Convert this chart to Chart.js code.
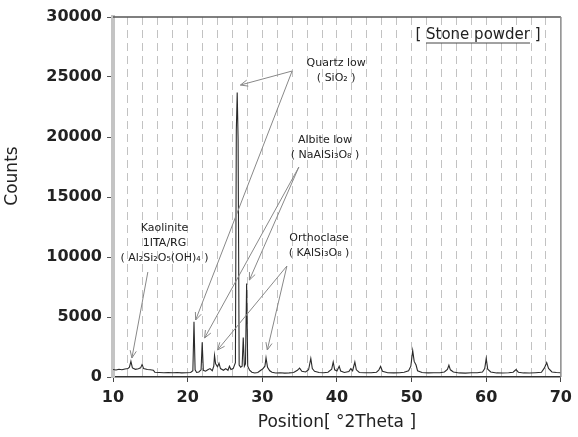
<!DOCTYPE html>
<html>
<head>
<meta charset="utf-8">
<script src="https://cdn.jsdelivr.net/npm/chart.js@4/dist/chart.umd.min.js"></script>
<style>
  html, body { margin: 0; padding: 0; background: #fff; }
  canvas { display: block; }
</style>
</head>
<body>
<canvas id="xrd" width="578" height="437"></canvas>
<script>
// diffraction pattern, position (°2θ) against counts
const twoTheta = [
  10.0, 10.4, 10.8, 11.2, 11.6, 12.0, 12.2, 12.4, 12.6, 13.0, 13.4, 13.7, 13.9, 14.1, 14.6, 15.0, 15.4, 15.6,
  16.2, 16.8, 17.4, 18.0, 18.6, 19.2, 19.8, 20.4, 20.7, 20.85, 21.0, 21.2, 21.5, 21.8, 21.95, 22.1, 22.4, 22.7,
  23.0, 23.3, 23.5, 23.6, 23.75, 24.0, 24.2, 24.4, 24.8, 25.1, 25.4, 25.6, 25.8, 26.1, 26.4, 26.52, 26.64, 26.76,
  26.9, 27.1, 27.3, 27.45, 27.6, 27.75, 27.9, 28.05, 28.3, 28.6, 29.0, 29.4, 29.8, 30.1, 30.35, 30.5, 30.7, 31.0,
  31.3, 31.8, 32.4, 33.0, 33.6, 34.2, 34.7, 35.0, 35.3, 35.8, 36.2, 36.5, 36.7, 37.0, 37.6, 38.2, 38.8, 39.3,
  39.5, 39.7, 40.0, 40.3, 40.5, 41.0, 41.6, 41.85, 42.1, 42.4, 42.6, 43.0, 43.8, 44.6, 45.3, 45.6, 45.85, 46.1,
  46.8, 47.6, 48.4, 49.0, 49.6, 49.9, 50.15, 50.35, 50.6, 50.8, 51.4, 52.2, 53.0, 53.8, 54.4, 54.8, 55.0, 55.2,
  55.6, 56.4, 57.2, 58.0, 58.8, 59.5, 59.8, 60.0, 60.2, 60.6, 61.4, 62.2, 63.0, 63.6, 64.0, 64.3, 65.0, 65.8,
  66.6, 67.4, 67.8, 68.1, 68.35, 68.8, 69.4, 70.0
];
const counts = [
  620, 580, 640, 600, 660, 700, 820, 1300, 760, 640, 680, 760, 1050, 700, 620, 600, 560, 400,
  380, 360, 380, 350, 370, 340, 360, 380, 520, 4600, 600, 380, 420, 600, 2900, 560, 480, 600,
  700, 520, 900, 1800, 1100, 850, 1150, 700, 560, 700, 560, 900, 620, 700, 1200, 20500, 23700, 19800,
  1000, 820, 900, 3300, 900, 1100, 7800, 900, 560, 400, 330, 380, 560, 700, 900, 1600, 800, 520,
  400, 330, 350, 320, 340, 380, 560, 740, 480, 420, 600, 1550, 700, 480, 380, 350, 400, 650,
  1250, 600, 500, 900, 500, 380, 460, 700, 520, 1250, 600, 380, 350, 360, 400, 560, 880, 480,
  360, 340, 360, 400, 520, 900, 2200, 1300, 1000, 520, 380, 340, 360, 350, 420, 640, 980, 600,
  420, 340, 320, 350, 360, 420, 700, 1550, 650, 420, 340, 330, 350, 400, 620, 400, 340, 330,
  360, 400, 760, 1200, 720, 420, 380, 360
];
const yTicks = [0, 5000, 10000, 15000, 20000, 25000, 30000];
const xTicks = [10, 20, 30, 40, 50, 60, 70];

// phase labels: text, label anchor and arrow ends in data units
const phases = [
  { text: ['Quartz low', '( SiO₂ )'], label: [39.9, 26150], from: [34.0, 25500], to: [[27.07, 24330], [21.07, 4750]] },
  { text: ['Albite low', '( NaAlSi₃O₈ )'], label: [38.4, 19750], from: [34.9, 17500], to: [[22.27, 3250], [28.27, 8080]] },
  { text: ['Orthoclase', '( KAlSi₃O₈ )'], label: [37.6, 11580], from: [33.3, 9250], to: [[24.0, 2250], [30.67, 2250]] },
  { text: ['Kaolinite', '1ITA/RG', '( Al₂Si₂O₅(OH)₄ )'], label: [16.9, 12420], from: [14.67, 8750], to: [[12.53, 1580]] }
];
const sampleName = 'Stone powder';

const FONT = "'DejaVu Sans', sans-serif";

function arrow(ctx, x1, y1, x2, y2) {
  ctx.beginPath();
  ctx.moveTo(x1, y1);
  ctx.lineTo(x2, y2);
  const a = Math.atan2(y2 - y1, x2 - x1);
  const len = 8, spread = 0.4;
  ctx.moveTo(x2 - len * Math.cos(a - spread), y2 - len * Math.sin(a - spread));
  ctx.lineTo(x2, y2);
  ctx.lineTo(x2 - len * Math.cos(a + spread), y2 - len * Math.sin(a + spread));
  ctx.stroke();
}

const framePlugin = {
  id: 'frame',
  afterDraw(chart) {
    const { ctx, chartArea: area, scales: { x, y } } = chart;
    ctx.save();

    // top and right edges of the plot box
    ctx.lineWidth = 1.5;
    ctx.strokeStyle = '#555';
    ctx.beginPath();
    ctx.moveTo(area.left, area.top);
    ctx.lineTo(area.right, area.top);
    ctx.stroke();
    ctx.strokeStyle = '#8a8a8a';
    ctx.beginPath();
    ctx.moveTo(area.right, area.top);
    ctx.lineTo(area.right, area.bottom);
    ctx.stroke();

    // phase labels with arrows
    ctx.lineWidth = 1;
    ctx.strokeStyle = '#888';
    ctx.fillStyle = '#222';
    ctx.textAlign = 'center';
    ctx.textBaseline = 'middle';
    ctx.font = '11px ' + FONT;
    phases.forEach(p => {
      const lx = x.getPixelForValue(p.label[0]);
      const ly = y.getPixelForValue(p.label[1]);
      p.text.forEach((t, i) => ctx.fillText(t, lx, ly + i * 15));
      const fx = x.getPixelForValue(p.from[0]);
      const fy = y.getPixelForValue(p.from[1]);
      p.to.forEach(t => arrow(ctx, fx, fy, x.getPixelForValue(t[0]), y.getPixelForValue(t[1])));
    });

    // sample name, bracketed and underlined
    ctx.font = '15px ' + FONT;
    ctx.textAlign = 'left';
    const cx = x.getPixelForValue(58.9);
    const cy = y.getPixelForValue(28500);
    const wName = ctx.measureText(sampleName).width;
    const wOpen = ctx.measureText('[ ').width;
    const wClose = ctx.measureText(' ]').width;
    const sx = cx - (wOpen + wName + wClose) / 2;
    ctx.fillText('[ ', sx, cy);
    ctx.fillText(sampleName, sx + wOpen, cy);
    ctx.fillText(' ]', sx + wOpen + wName, cy);
    ctx.strokeStyle = '#444';
    ctx.beginPath();
    ctx.moveTo(sx + wOpen, cy + 8);
    ctx.lineTo(sx + wOpen + wName, cy + 8);
    ctx.stroke();

    // y axis title
    ctx.font = '17px ' + FONT;
    ctx.textAlign = 'center';
    ctx.translate(13, 176);
    ctx.rotate(-Math.PI / 2);
    ctx.fillText('Counts', 0, 0);
    ctx.restore();
  }
};

new Chart(document.getElementById('xrd'), {
  type: 'line',
  data: {
    datasets: [{
      data: twoTheta.map((t, i) => ({ x: t, y: counts[i] })),
      borderColor: '#2a2a2a',
      borderWidth: 1.1,
      pointRadius: 0,
      tension: 0,
      fill: false
    }]
  },
  options: {
    responsive: false,
    animation: false,
    devicePixelRatio: 1,
    layout: { padding: { top: 17, right: 14, left: 0, bottom: 0 } },
    plugins: { legend: { display: false }, tooltip: { enabled: false } },
    scales: {
      x: {
        type: 'linear',
        min: 10,
        max: 70,
        afterFit: s => { s.height = 60; },
        afterBuildTicks: s => {
          const t = [];
          for (let v = 10; v <= 70; v += 2) t.push({ value: v });
          s.ticks = t;
        },
        ticks: {
          autoSkip: false,
          maxRotation: 0,
          padding: 6,
          color: '#222',
          font: { family: FONT, size: 16, weight: 'bold' },
          callback: v => xTicks.includes(v) ? String(v) : ''
        },
        grid: {
          color: c => (c.tick && (c.tick.value === 10 || c.tick.value === 70)) ? 'rgba(0,0,0,0)' : '#c2c2c2',
          tickColor: c => (c.tick && xTicks.includes(c.tick.value)) ? '#444' : 'rgba(0,0,0,0)',
          tickLength: 5,
          lineWidth: 1
        },
        border: { color: '#333', width: 1.5, dash: [8, 5] },
        title: {
          display: true,
          text: 'Position[ °2Theta ]',
          color: '#222',
          font: { family: FONT, size: 17 },
          padding: { top: 0, bottom: 4 }
        }
      },
      y: {
        min: 0,
        max: 30000,
        afterFit: s => { s.width = 113; },
        afterBuildTicks: s => { s.ticks = yTicks.map(v => ({ value: v })); },
        ticks: {
          padding: 5,
          color: '#222',
          font: { family: FONT, size: 16, weight: 'bold' },
          callback: v => String(v)
        },
        grid: { drawOnChartArea: false, tickLength: 6, color: '#555' },
        border: { color: '#c4c4c4', width: 4 }
      }
    }
  },
  plugins: [framePlugin]
});
</script>
</body>
</html>
